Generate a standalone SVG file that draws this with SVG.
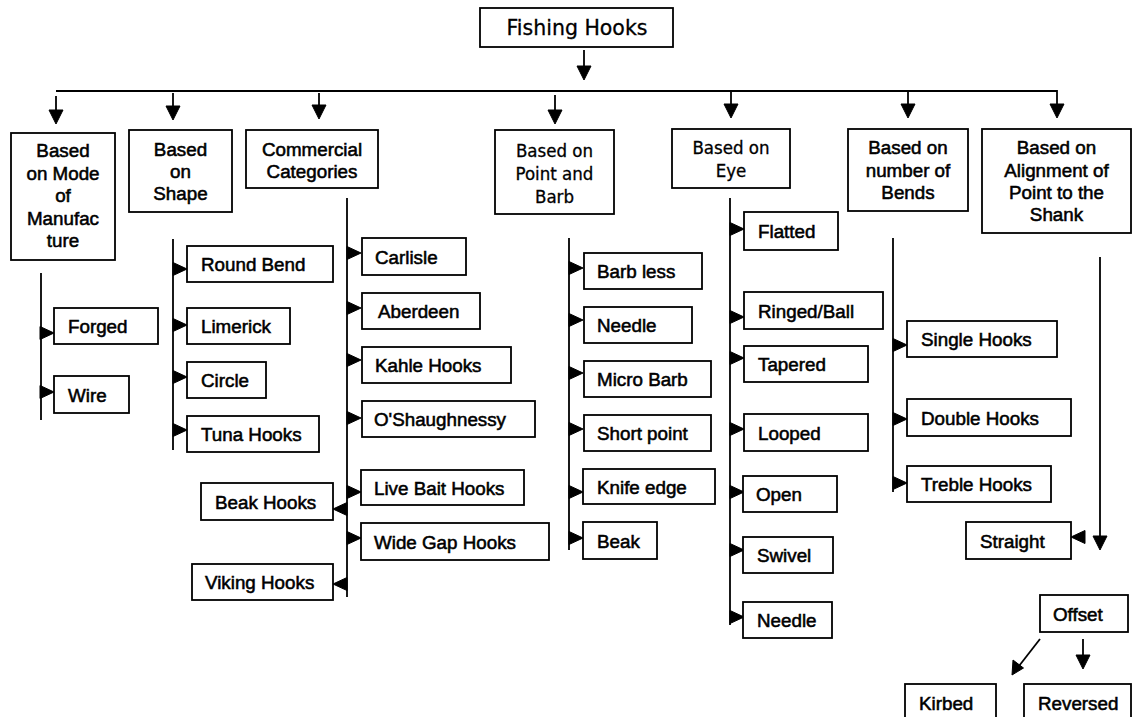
<svg xmlns="http://www.w3.org/2000/svg" xmlns:xlink="http://www.w3.org/1999/xlink" width="1132" height="717" viewBox="0 0 1132 717">
<style>
rect{fill:#fff;stroke:#000;stroke-width:1.8}
text{font-family:"Liberation Sans",Arial,sans-serif;font-size:18.8px;fill:#000;stroke:#000;stroke-width:0.55}
.c{text-anchor:middle}
.t{font-family:"DejaVu Sans Condensed","DejaVu Sans",sans-serif;font-stretch:condensed;font-size:18.5px;stroke-width:0.3}
.r{font-family:"DejaVu Sans",sans-serif;font-size:20.5px;stroke-width:0.3}
#connectors line{stroke:#000;stroke-width:1.8}
#connectors path,#connectors use{fill:#000;stroke:#000;stroke-width:1;stroke-linejoin:miter}
</style>
<defs>
<path id="tr" d="M-1,-6.5 L13,0 L-1,6.5 Z"/>
<path id="tl" d="M1,-6.5 L-13,0 L1,6.5 Z"/>
<path id="ad" d="M-7,-14 L7,-14 L0,0 Z"/>
</defs>
<rect x="0" y="0" width="1132" height="717" style="fill:#fff;stroke:none"/>
<g id="connectors">
<line x1="584" y1="50" x2="584" y2="68"/><use xlink:href="#ad" x="584" y="80"/>
<line x1="56" y1="91" x2="1057" y2="91"/>
<line x1="56" y1="96" x2="56" y2="112"/><use xlink:href="#ad" x="56" y="124"/>
<line x1="173" y1="93" x2="173" y2="108"/><use xlink:href="#ad" x="173" y="120"/>
<line x1="319" y1="93" x2="319" y2="107"/><use xlink:href="#ad" x="319" y="119"/>
<line x1="555" y1="95" x2="555" y2="112"/><use xlink:href="#ad" x="555" y="124"/>
<line x1="731" y1="91" x2="731" y2="106"/><use xlink:href="#ad" x="731" y="118"/>
<line x1="908" y1="91" x2="908" y2="106"/><use xlink:href="#ad" x="908" y="118"/>
<line x1="1057" y1="90" x2="1057" y2="106"/><use xlink:href="#ad" x="1057" y="118"/>
<line x1="41" y1="273" x2="41" y2="420"/>
<use xlink:href="#tr" x="41" y="333"/><use xlink:href="#tr" x="41" y="392"/>
<line x1="173" y1="239" x2="173" y2="450"/>
<use xlink:href="#tr" x="174" y="269"/><use xlink:href="#tr" x="174" y="325"/><use xlink:href="#tr" x="174" y="377"/><use xlink:href="#tr" x="174" y="430"/>
<line x1="347" y1="198" x2="347" y2="597"/>
<use xlink:href="#tr" x="348" y="253"/><use xlink:href="#tr" x="348" y="308"/><use xlink:href="#tr" x="348" y="360"/><use xlink:href="#tr" x="348" y="418"/><use xlink:href="#tr" x="348" y="492"/><use xlink:href="#tr" x="348" y="538"/>
<use xlink:href="#tl" x="346" y="509"/><use xlink:href="#tl" x="346" y="584"/>
<line x1="569" y1="238" x2="569" y2="550"/>
<use xlink:href="#tr" x="570" y="268"/><use xlink:href="#tr" x="570" y="320"/><use xlink:href="#tr" x="570" y="373"/><use xlink:href="#tr" x="570" y="429"/><use xlink:href="#tr" x="570" y="492"/><use xlink:href="#tr" x="570" y="538"/>
<line x1="730" y1="198" x2="730" y2="625"/>
<use xlink:href="#tr" x="731" y="229"/><use xlink:href="#tr" x="731" y="317"/><use xlink:href="#tr" x="731" y="358"/><use xlink:href="#tr" x="731" y="429"/><use xlink:href="#tr" x="731" y="492"/><use xlink:href="#tr" x="731" y="550"/><use xlink:href="#tr" x="731" y="617"/>
<line x1="893" y1="238" x2="893" y2="492"/>
<use xlink:href="#tr" x="894" y="345"/><use xlink:href="#tr" x="894" y="419"/><use xlink:href="#tr" x="894" y="483"/>
<line x1="1100" y1="257" x2="1100" y2="538"/><use xlink:href="#ad" x="1100" y="550"/>
<use xlink:href="#tl" x="1084" y="537"/>
<line x1="1083" y1="639" x2="1083" y2="657"/><use xlink:href="#ad" x="1083" y="669"/>
<line x1="1040" y1="639" x2="1019" y2="666"/>
<path d="M1012,675 L1013,660 L1023.5,668 Z"/>
</g>
<g id="n-root"><rect x="480" y="8" width="193" height="39"/><text class="r c" x="577" y="35">Fishing Hooks</text></g>
<g id="n-manufacture"><rect x="11" y="133" width="104" height="127"/><text class="c" x="63" y="157">Based</text><text class="c" x="63" y="180">on Mode</text><text class="c" x="63" y="202">of</text><text class="c" x="63" y="225">Manufac</text><text class="c" x="63" y="247">ture</text></g>
<g id="n-shape"><rect x="129" y="130" width="103" height="82"/><text class="c" x="180.5" y="156">Based</text><text class="c" x="180.5" y="178">on</text><text class="c" x="180.5" y="200">Shape</text></g>
<g id="n-commercial"><rect x="246" y="130" width="132" height="58"/><text class="c" x="312" y="156">Commercial</text><text class="c" x="312" y="178">Categories</text></g>
<g id="n-point"><rect x="495" y="130" width="119" height="84"/><text class="t c" x="554.5" y="157">Based on</text><text class="t c" x="554.5" y="180">Point and</text><text class="t c" x="554.5" y="203">Barb</text></g>
<g id="n-eye"><rect x="672" y="129" width="118" height="59"/><text class="t c" x="731" y="154">Based on</text><text class="t c" x="731" y="177">Eye</text></g>
<g id="n-bends"><rect x="848" y="129" width="120" height="82"/><text class="c" x="908" y="154">Based on</text><text class="c" x="908" y="177">number of</text><text class="c" x="908" y="199">Bends</text></g>
<g id="n-align"><rect x="982" y="129" width="149" height="104"/><text class="c" x="1056.5" y="154">Based on</text><text class="c" x="1056.5" y="177">Alignment of</text><text class="c" x="1056.5" y="199">Point to the</text><text class="c" x="1056.5" y="221">Shank</text></g>
<g id="n-forged"><rect x="54" y="308" width="104" height="36"/><text x="68" y="333">Forged</text></g>
<g id="n-wire"><rect x="54" y="376" width="75" height="37"/><text x="68" y="401.5">Wire</text></g>
<g id="n-roundbend"><rect x="187" y="246" width="146" height="36"/><text x="201" y="271">Round Bend</text></g>
<g id="n-limerick"><rect x="187" y="308" width="103" height="36"/><text x="201" y="333">Limerick</text></g>
<g id="n-circle"><rect x="187" y="362" width="79" height="36"/><text x="201" y="387">Circle</text></g>
<g id="n-tuna"><rect x="187" y="416" width="132" height="36"/><text x="201" y="441">Tuna Hooks</text></g>
<g id="n-carlisle"><rect x="362" y="238" width="104" height="37"/><text x="375" y="263.5">Carlisle</text></g>
<g id="n-aberdeen"><rect x="362" y="293" width="118" height="36"/><text x="378" y="318">Aberdeen</text></g>
<g id="n-kahle"><rect x="362" y="347" width="149" height="36"/><text x="375" y="372">Kahle Hooks</text></g>
<g id="n-oshaughnessy"><rect x="362" y="401" width="173" height="36"/><text x="374" y="426">O'Shaughnessy</text></g>
<g id="n-livebait"><rect x="361" y="470" width="163" height="35"/><text x="374" y="494.5">Live Bait Hooks</text></g>
<g id="n-widegap"><rect x="361" y="523" width="188" height="37"/><text x="374" y="548.5">Wide Gap Hooks</text></g>
<g id="n-beakhooks"><rect x="201" y="483" width="132" height="37"/><text x="215" y="508.5">Beak Hooks</text></g>
<g id="n-viking"><rect x="192" y="564" width="141" height="36"/><text x="205" y="589">Viking Hooks</text></g>
<g id="n-barbless"><rect x="584" y="253" width="118" height="36"/><text x="597" y="278">Barb less</text></g>
<g id="n-needle1"><rect x="584" y="307" width="108" height="36"/><text x="597" y="332">Needle</text></g>
<g id="n-microbarb"><rect x="584" y="361" width="127" height="36"/><text x="597" y="386">Micro Barb</text></g>
<g id="n-shortpoint"><rect x="584" y="415" width="127" height="36"/><text x="597" y="440">Short point</text></g>
<g id="n-knifeedge"><rect x="583" y="469" width="132" height="35"/><text x="597" y="493.5">Knife edge</text></g>
<g id="n-beak"><rect x="583" y="522" width="74" height="37"/><text x="597" y="547.5">Beak</text></g>
<g id="n-flatted"><rect x="744" y="212" width="94" height="38"/><text x="758" y="238">Flatted</text></g>
<g id="n-ringed"><rect x="744" y="292" width="139" height="37"/><text x="758" y="317.5">Ringed/Ball</text></g>
<g id="n-tapered"><rect x="744" y="346" width="124" height="36"/><text x="758" y="371">Tapered</text></g>
<g id="n-looped"><rect x="744" y="414" width="124" height="37"/><text x="758" y="439.5">Looped</text></g>
<g id="n-open"><rect x="743" y="476" width="94" height="36"/><text x="756" y="501">Open</text></g>
<g id="n-swivel"><rect x="743" y="537" width="90" height="36"/><text x="757" y="562">Swivel</text></g>
<g id="n-needle2"><rect x="743" y="602" width="89" height="36"/><text x="757" y="627">Needle</text></g>
<g id="n-single"><rect x="907" y="321" width="150" height="36"/><text x="921" y="346">Single Hooks</text></g>
<g id="n-double"><rect x="907" y="399" width="164" height="37"/><text x="921" y="424.5">Double Hooks</text></g>
<g id="n-treble"><rect x="907" y="466" width="144" height="36"/><text x="921" y="491">Treble Hooks</text></g>
<g id="n-straight"><rect x="966" y="522" width="105" height="37"/><text x="980" y="547.5">Straight</text></g>
<g id="n-offset"><rect x="1040" y="595" width="88" height="37"/><text x="1053" y="620.5">Offset</text></g>
<g id="n-kirbed"><rect x="905" y="684" width="91" height="40"/><text x="919" y="710">Kirbed</text></g>
<g id="n-reversed"><rect x="1024" y="684" width="107" height="40"/><text x="1038" y="710">Reversed</text></g>
</svg>
